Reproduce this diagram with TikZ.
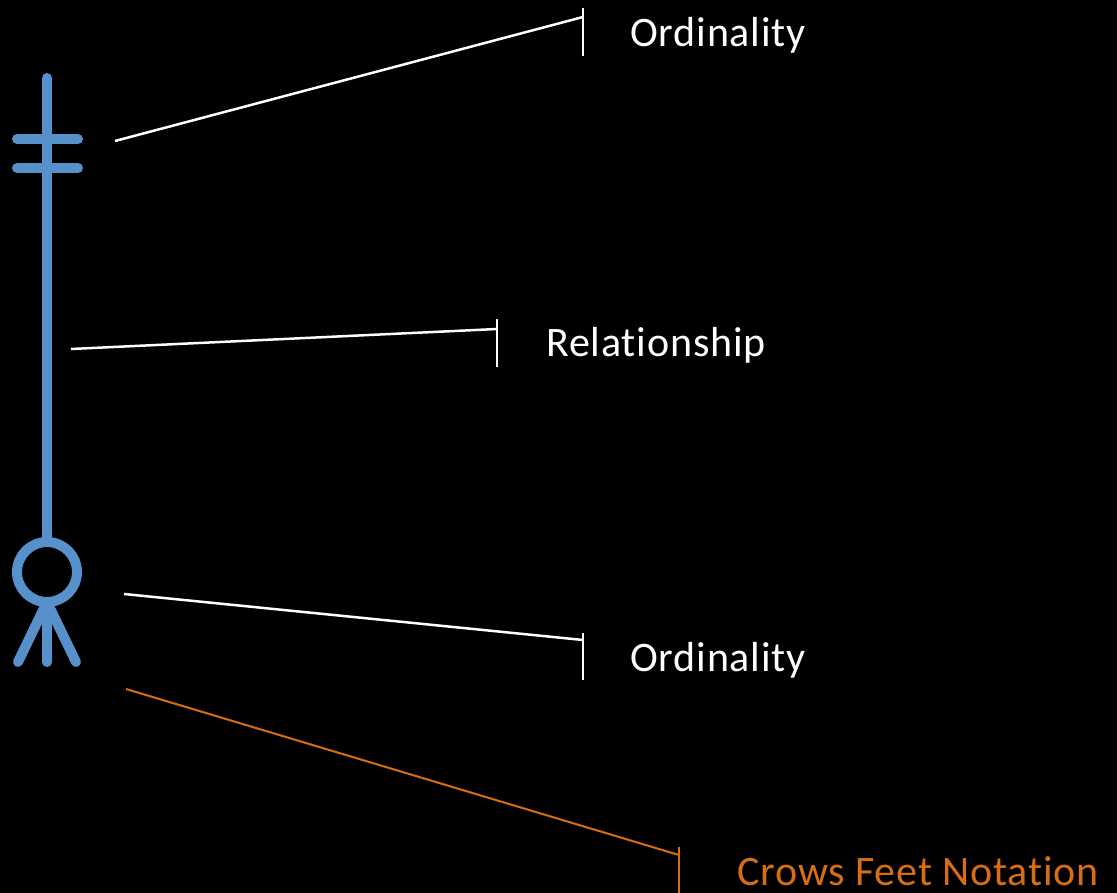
\documentclass[tikz,border=0pt]{standalone}
\usepackage{fontspec}
\setmainfont[Ligatures=NoCommon,LetterSpace=2]{Carlito}
\definecolor{erblue}{RGB}{86,145,204}
\definecolor{erorange}{RGB}{214,110,20}
\begin{document}
\begin{tikzpicture}[x=1pt,y=-1pt,
  sym/.style={draw=erblue,line width=10pt,line cap=round},
  lead/.style={draw=white,line width=2.5pt},
  leado/.style={draw=erorange,line width=2pt},
  lbl/.style={anchor=base west,inner sep=0pt,text=white,font=\fontsize{42}{48}\selectfont},
  lblo/.style={lbl,text=erorange}]
\fill[black] (0,0) rectangle (1117,893);
\useasboundingbox (0,0) rectangle (1117,893);
% symbol
\coordinate (top) at (47,78);
\coordinate (cc) at (47,572);
\draw[sym] (top) -- (47,542);
\draw[sym] (17,139) -- (78,139);
\draw[sym] (17,168) -- (78,168);
\draw[sym,line cap=butt] (cc) circle[radius=30];
\draw[sym] (47,602) -- (18,662);
\draw[sym] (47,602) -- (47,662);
\draw[sym] (47,602) -- (76,662);
% labels
\node[lbl] (ord1) at (630,47) {Ordinality};
\node[lbl] (rel) at (546,357) {Relationship};
\node[lbl] (ord2) at (630,671) {Ordinality};
\node[lblo] (crow) at (737,885) {Crows Feet Notation};
% leaders
\coordinate (a1) at (115,141); \coordinate (t1) at (583,17);
\draw[lead] (a1) -- (t1);
\draw[lead] (583,8) -- (583,56);
\coordinate (a2) at (71,349); \coordinate (t2) at (497,329);
\draw[lead] (a2) -- (t2);
\draw[lead] (497,319) -- (497,367);
\coordinate (a3) at (124,594); \coordinate (t3) at (583,640);
\draw[lead] (a3) -- (t3);
\draw[lead] (583,633) -- (583,680);
\coordinate (a4) at (126,689); \coordinate (t4) at (679,855);
\draw[leado] (a4) -- (t4);
\draw[leado] (679,847) -- (679,893);
\end{tikzpicture}
\end{document}
